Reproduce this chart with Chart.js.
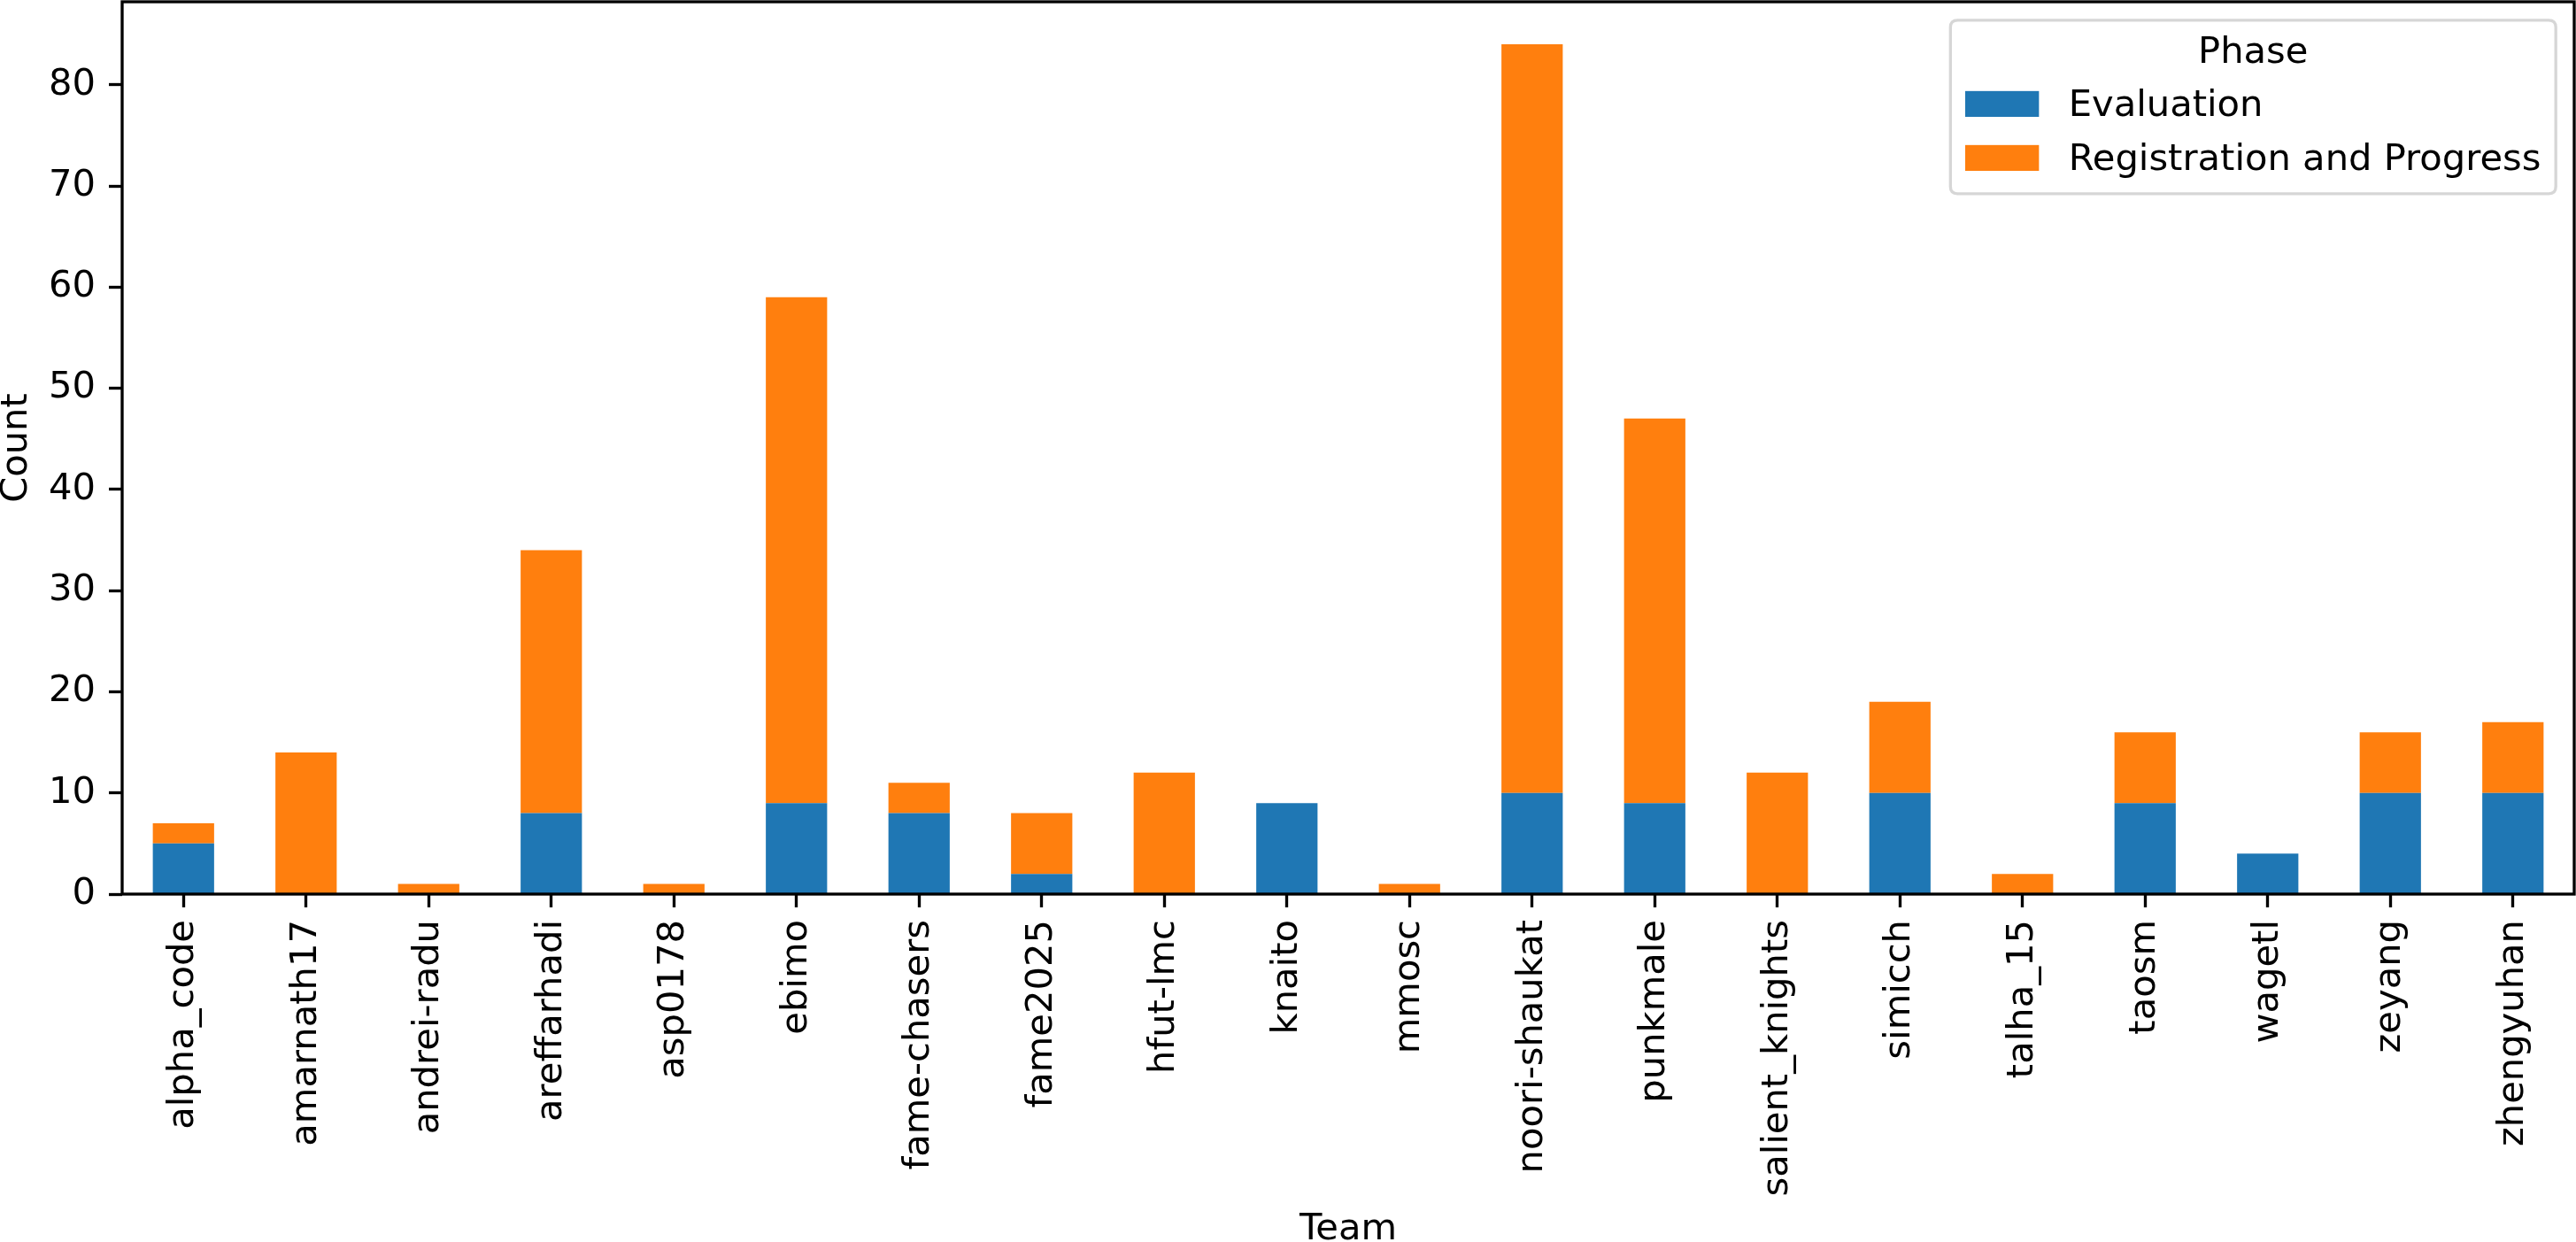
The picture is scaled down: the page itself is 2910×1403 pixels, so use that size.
<!DOCTYPE html>
<html>
<head>
<meta charset="utf-8">
<script src="https://cdn.jsdelivr.net/npm/chart.js@4.4.1/dist/chart.umd.min.js"></script>
<style>
  html, body { margin: 0; padding: 0; background: #ffffff; }
  #wrap { width: 2910px; height: 1403px; }
</style>
</head>
<body>
<div id="wrap"><canvas id="c" width="2910" height="1403"></canvas></div>
<script>
const teams = ["alpha_code", "amarnath17", "andrei-radu", "areffarhadi", "asp0178", "ebimo",
  "fame-chasers", "fame2025", "hfut-lmc", "knaito", "mmosc", "noori-shaukat", "punkmale",
  "salient_knights", "simicch", "talha_15", "taosm", "wagetl", "zeyang", "zhengyuhan"];
const evaluation   = [5, 0, 0, 8, 0, 9, 8, 2, 0, 9, 0, 10, 9, 0, 10, 0, 9, 4, 10, 10];
const registration = [2, 14, 1, 26, 1, 50, 3, 6, 12, 0, 1, 74, 38, 12, 9, 2, 7, 0, 6, 7];
const seriesNames  = ["Evaluation", "Registration and Progress"];
const seriesColors = ["#1f77b4", "#ff7f0e"];
const yTicks = [0, 10, 20, 30, 40, 50, 60, 70, 80];
const yMax = 88.2;
const legendTitle = "Phase";
const xTitle = "Team";
const yTitle = "Count";

const FS = 41.67;
const FONT = "DejaVu Sans";
const LW = 3.33;

const spines = {
  id: 'spines',
  afterDatasetsDraw(chart) {
    const {ctx, chartArea: a} = chart;
    ctx.save();
    ctx.strokeStyle = '#000';
    ctx.lineWidth = LW;
    ctx.lineJoin = 'miter';
    ctx.strokeRect(a.left, a.top, a.right - a.left, a.bottom - a.top);
    ctx.restore();
  }
};

const boxLegend = {
  id: 'boxLegend',
  afterDraw(chart) {
    const {ctx, chartArea: a} = chart;
    const pad = 0.4 * FS, hl = 2.0 * FS, hh = 0.7 * FS, htp = 0.8 * FS;
    ctx.save();
    ctx.font = FS + 'px "' + FONT + '"';
    let maxW = 0;
    chart.data.datasets.forEach(d => { maxW = Math.max(maxW, ctx.measureText(d.label).width); });
    const w = pad + hl + htp + maxW + pad;
    const h = 196;
    const right = a.right - 0.5 * FS;
    const top = a.top + 0.5 * FS;
    const left = right - w;
    const r = 8;
    ctx.beginPath();
    ctx.moveTo(left + r, top);
    ctx.lineTo(right - r, top);
    ctx.quadraticCurveTo(right, top, right, top + r);
    ctx.lineTo(right, top + h - r);
    ctx.quadraticCurveTo(right, top + h, right - r, top + h);
    ctx.lineTo(left + r, top + h);
    ctx.quadraticCurveTo(left, top + h, left, top + h - r);
    ctx.lineTo(left, top + r);
    ctx.quadraticCurveTo(left, top, left + r, top);
    ctx.closePath();
    ctx.fillStyle = 'rgba(255,255,255,0.8)';
    ctx.fill();
    ctx.strokeStyle = 'rgba(204,204,204,0.8)';
    ctx.lineWidth = LW;
    ctx.stroke();
    ctx.fillStyle = '#000';
    ctx.textBaseline = 'alphabetic';
    ctx.textAlign = 'center';
    ctx.fillText(legendTitle, (left + right) / 2, top + 48);
    ctx.textAlign = 'left';
    chart.data.datasets.forEach((d, i) => {
      const sy = top + 80 + i * 61;
      ctx.fillStyle = d.backgroundColor;
      ctx.fillRect(left + pad, sy, hl, hh);
      ctx.fillStyle = '#000';
      ctx.fillText(d.label, left + pad + hl + htp, top + 108 + i * 61);
    });
    ctx.restore();
  }
};

new Chart(document.getElementById('c'), {
  type: 'bar',
  data: {
    labels: teams,
    datasets: [
      { label: seriesNames[0], data: evaluation, backgroundColor: seriesColors[0], stack: 's' },
      { label: seriesNames[1], data: registration, backgroundColor: seriesColors[1], stack: 's' }
    ]
  },
  plugins: [spines, boxLegend],
  options: {
    responsive: false,
    devicePixelRatio: 1,
    animation: false,
    events: [],
    layout: { padding: { left: 0, top: 2, right: 2, bottom: 0 } },
    datasets: { bar: { barPercentage: 0.5, categoryPercentage: 1.0, borderWidth: 0 } },
    plugins: { legend: { display: false }, tooltip: { enabled: false }, title: { display: false } },
    scales: {
      x: {
        stacked: true,
        grid: { display: true, offset: false, drawOnChartArea: false, drawTicks: true, tickLength: 15, tickWidth: LW, tickColor: '#000' },
        border: { display: false },
        ticks: { autoSkip: false, minRotation: 90, maxRotation: 90, padding: 14, color: '#000',
                 font: { family: FONT, size: FS } },
        title: { display: true, text: xTitle, color: '#000', font: { family: FONT, size: FS, lineHeight: 1.2 },
                 padding: { top: 0, bottom: -11 } },
        afterFit(s) { s.height = 393; s.paddingLeft = 0; s.paddingRight = 0; }
      },
      y: {
        stacked: true,
        min: 0,
        max: yMax,
        grid: { display: true, drawOnChartArea: false, drawTicks: true, tickLength: 15, tickWidth: LW, tickColor: '#000' },
        border: { display: false },
        ticks: { padding: 15, color: '#000', includeBounds: false, font: { family: FONT, size: FS } },
        afterBuildTicks(s) { s.ticks = yTicks.map(v => ({ value: v })); },
        title: { display: true, text: yTitle, color: '#000', font: { family: FONT, size: FS, lineHeight: 1.2 },
                 padding: { top: -6, bottom: 0 } },
        afterFit(s) { s.width = 138; s.paddingTop = 0; s.paddingBottom = 0; }
      }
    }
  }
});
</script>
</body>
</html>
